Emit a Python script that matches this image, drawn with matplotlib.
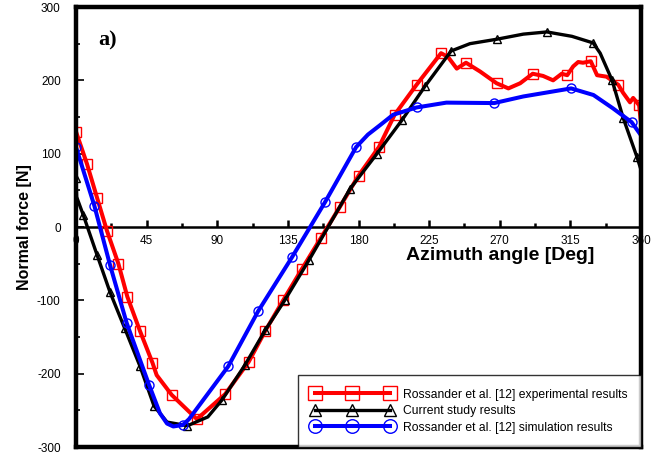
import matplotlib
matplotlib.use('Agg')
import matplotlib.pyplot as plt
from matplotlib.ticker import MultipleLocator

plt.rcParams['font.family'] = ['Liberation Sans', 'DejaVu Sans']
plt.rcParams['axes.unicode_minus'] = False

# ---------------- data ----------------
exp_x = [0, 7, 13.4, 19.7, 27, 32.7, 40.8, 48.7, 51.4, 61, 77, 95, 110, 120.5, 132,
         144, 156, 168, 180, 193, 203, 217, 232.6, 237, 242.6, 248.5, 257.5, 268,
         275.5, 283, 291, 297.6, 304, 309.5, 313, 316.8, 320, 323, 328, 332, 338,
         345.5, 348.6, 353, 355, 358.8, 360]
exp_y = [130, 86, 40, -5, -50, -95, -142, -185, -202, -229, -262, -228, -184, -142, -100,
         -57, -15, 27, 70, 109, 153, 194, 237, 232, 216, 224, 212, 196,
         189, 196, 209, 206, 200, 209, 207, 219, 225, 224, 226, 207, 205,
         194, 183, 170, 176, 166, 142]
exp_marks = [0, 7, 13.4, 19.7, 27, 32.7, 40.8, 48.7, 61, 77, 95, 110, 120.5, 132,
             144, 156, 168, 180, 193, 203, 217, 232.6, 248.5, 268, 291, 313, 328,
             345.5, 358.8]

cur_x = [0, 0.4, 4.7, 13.4, 21.7, 31, 40.8, 49.7, 58, 71, 84, 93, 107.7, 120.5, 133,
         148.5, 162, 174.6, 191.8, 207.8, 222.4, 239, 251, 268, 285, 300, 316,
         329.5, 334, 341.6, 348.6, 357.5, 360]
cur_y = [67, 41, 16, -38, -89, -138, -190, -244, -266, -271, -259, -236, -188, -141, -100,
         -45, 5, 52, 100, 146, 192, 240, 250, 256, 263, 266, 260,
         251, 237, 200, 149, 95, 78]
cur_marks = [0, 4.7, 13.4, 21.7, 31, 40.8, 49.7, 71, 93, 107.7, 120.5, 133, 148.5,
             174.6, 191.8, 207.8, 222.4, 239, 268, 300, 329.5, 341.6, 348.6, 357.5]

sim_x = [0, 11.7, 21.7, 32.3, 46.5, 53.5, 58, 62, 68, 72, 97, 116, 137.7, 158.7, 178.5,
         186, 193.8, 202, 217, 236, 266.5, 285, 315.5, 329.7, 342, 354, 360]
sim_y = [109, 29, -52, -131, -215, -254, -268, -272, -270, -262, -190, -115, -41, 34, 109,
         126, 139, 153, 163, 169.6, 169, 178, 189, 180, 162, 143, 125]
sim_marks = [0, 11.7, 21.7, 32.3, 46.5, 68, 97, 116, 137.7, 158.7, 178.5, 217, 266.5,
             315.5, 354]

x_ticks = [0, 45, 90, 135, 180, 225, 270, 315, 360]
y_ticks = [-300, -200, -100, 0, 100, 200, 300]

labels = ['Rossander et al. [12] experimental results',
          'Current study results',
          'Rossander et al. [12] simulation results']

# ---------------- figure ----------------
fig = plt.figure(figsize=(6.63, 4.53), dpi=100)
ax = fig.add_axes([76/663, 1-447/453, (641-76)/663, (447-7)/453])

ax.plot(exp_x, exp_y, color='#ff0000', lw=2.9, marker='s', ms=7, mfc='none',
        mec='#ff0000', mew=1.0, markevery=[exp_x.index(v) for v in exp_marks],
        label=labels[0], zorder=3)
ax.plot(cur_x, cur_y, color='black', lw=2.4, marker='^', ms=6, mfc='none',
        mec='black', mew=1.0, markevery=[cur_x.index(v) for v in cur_marks],
        label=labels[1], zorder=4)
ax.plot(sim_x, sim_y, color='#0000ff', lw=2.9, marker='o', ms=6.5, mfc='none',
        mec='#0000ff', mew=1.0, markevery=[sim_x.index(v) for v in sim_marks],
        label=labels[2], zorder=5)

ax.set_xlim(0, 360)
ax.set_ylim(-300, 300)

# spines
for s in ['left', 'right', 'top']:
    ax.spines[s].set_linewidth(3.2)
    ax.spines[s].set_zorder(6)
ax.spines['bottom'].set_position(('data', 0))
ax.spines['bottom'].set_linewidth(1.8)
ax.axhline(-300, color='black', lw=3.2, clip_on=False, zorder=6)

ax.xaxis.set_minor_locator(MultipleLocator(22.5))
ax.yaxis.set_minor_locator(MultipleLocator(50))
ax.set_xticks(x_ticks)
ax.set_xticklabels([str(v) for v in x_ticks])
ax.set_yticks(y_ticks)
ax.set_yticklabels([str(v) for v in y_ticks])

ax.tick_params(axis='x', which='major', direction='in', length=5, width=1.8,
               labelsize=8.5, pad=6, top=False)
ax.tick_params(axis='x', which='minor', direction='in', length=3, width=1.8, top=False)
ax.tick_params(axis='y', which='major', direction='in', length=6, width=1.2,
               labelsize=8.5, pad=11, right=False)
ax.tick_params(axis='y', which='minor', direction='in', length=3, width=1.2, right=False)

ax.text((500-76)/565, (447-255)/440, 'Azimuth angle [Deg]', transform=ax.transAxes,
        ha='center', va='center', fontsize=14, fontweight='bold')
fig.text(25/663, 1-227/453, 'Normal force [N]', rotation=90, ha='center', va='center',
         fontsize=11.5, fontweight='bold')
ax.text((98-76)/565, (447-40)/440, 'a)', transform=ax.transAxes, ha='left', va='center',
        fontsize=16, fontweight='bold', family=['Liberation Serif', 'DejaVu Serif'])

leg = ax.legend(loc='lower right', numpoints=3, markerscale=1.5, handlelength=6.8,
                handletextpad=0.8, fontsize=8.7, frameon=True, fancybox=False,
                edgecolor='black', borderaxespad=0.0, labelspacing=0.38,
                borderpad=1.1)
leg.get_frame().set_linewidth(1.0)
leg.set_zorder(7)

fig.savefig('out.png', dpi=100, facecolor='white')
